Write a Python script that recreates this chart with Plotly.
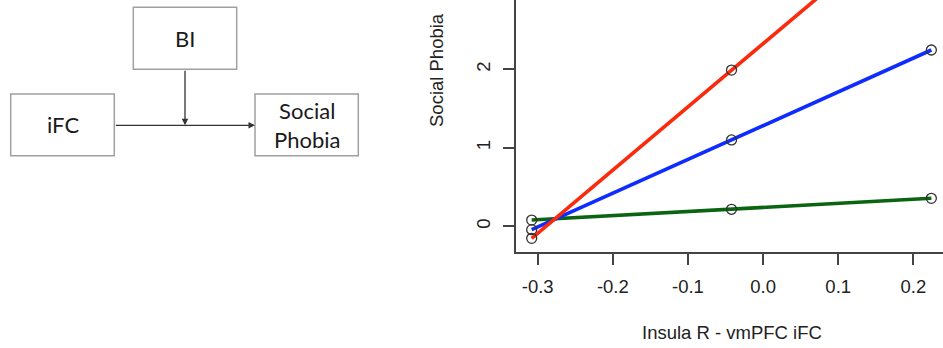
import plotly.graph_objects as go

# ---- data ----
x_levels = [-0.308, -0.042, 0.224]
red_vals = [-0.153, 1.99, 4.13]
blue_vals = [-0.043, 1.10, 2.246]
green_vals = [0.08, 0.217, 0.357]
x_ticks = [-0.3, -0.2, -0.1, 0.0, 0.1, 0.2]
x_tick_labels = ["-0.3", "-0.2", "-0.1", "0.0", "0.1", "0.2"]
y_ticks = [0, 1, 2]
y_tick_labels = ["0", "1", "2"]

W, H = 943, 348
def px(x):
    return x / W
def py(y):
    return (H - y) / H

fig = go.Figure()
series = [(green_vals, "#0a6410"), (blue_vals, "#0f2cff"), (red_vals, "#fb2a0c")]
for vals, col in series:
    fig.add_trace(go.Scatter(
        x=x_levels, y=vals, mode="lines+markers",
        line=dict(color=col, width=3.6),
        marker=dict(symbol="circle-open", size=10, color="#333333", line=dict(width=1.3)),
        showlegend=False, cliponaxis=True, hoverinfo="skip",
    ))

axis_col = "#444444"
font_ax = dict(family="Liberation Sans, Arial, sans-serif", size=18.5, color="#222222")

fig.update_layout(
    width=W, height=H,
    margin=dict(l=0, r=0, t=0, b=0),
    paper_bgcolor="white", plot_bgcolor="white",
    xaxis=dict(domain=[516 / W, 1], range=[-0.3289, 0.2395], showgrid=False, zeroline=False,
               showline=True, linecolor=axis_col, linewidth=1.5,
               ticks="outside", ticklen=11, tickwidth=1.5, tickcolor=axis_col,
               tickvals=x_ticks, ticktext=x_tick_labels, tickfont=font_ax,
               ticklabelstandoff=6, automargin=False),
    yaxis=dict(domain=[(H - 252) / H, 1], range=[-0.327, 2.883], showgrid=False, zeroline=False,
               showline=True, linecolor=axis_col, linewidth=1.5,
               ticks="outside", ticklen=11, tickwidth=1.5, tickcolor=axis_col,
               tickvals=y_ticks, ticktext=y_tick_labels, tickfont=font_ax, tickangle=-90,
               ticklabelstandoff=6, automargin=False),
)

# axis titles
fig.add_annotation(x=px(732), y=py(332), xref="paper", yref="paper", text="Insula R - vmPFC iFC",
                   showarrow=False, font=font_ax, xanchor="center", yanchor="middle")
fig.add_annotation(x=px(436), y=py(70), xref="paper", yref="paper", text="Social Phobia",
                   showarrow=False, font=font_ax, textangle=-90, xanchor="center", yanchor="middle")

# diagram boxes
box_col = "#a0a0a0"
boxes = [
    ("BI", 133.3, 7.3, 236.7, 69.3),
    ("iFC", 10.7, 94, 114.3, 155.7),
    ("Social<br>Phobia", 255, 94, 358.3, 155.7),
]
font_dg = dict(family="Lato, Noto Sans, sans-serif", size=22, color="#1a1a1a")
for label, x0, y0, x1, y1 in boxes:
    fig.add_shape(type="rect", xref="paper", yref="paper",
                  x0=px(x0), x1=px(x1), y0=py(y1), y1=py(y0),
                  line=dict(color=box_col, width=1.5), fillcolor="white")
    fig.add_annotation(x=px((x0 + x1) / 2), y=py((y0 + y1) / 2), xref="paper", yref="paper",
                       text=label, showarrow=False, font=font_dg, xanchor="center", yanchor="middle")

# arrows
arrow_col = "#333333"
fig.add_annotation(x=px(255), y=py(125.3), xref="paper", yref="paper", ax=-140.7, ay=0,
                   showarrow=True, arrowhead=2, arrowsize=1, arrowwidth=1.3, arrowcolor=arrow_col, text="")
fig.add_annotation(x=px(185), y=py(125.3), xref="paper", yref="paper", ax=0, ay=-56,
                   showarrow=True, arrowhead=2, arrowsize=1, arrowwidth=1.3, arrowcolor=arrow_col, text="")

fig.write_html("out.html", config={"displayModeBar": False},
               post_script="document.body.style.margin='0px';document.body.style.overflow='hidden';")
